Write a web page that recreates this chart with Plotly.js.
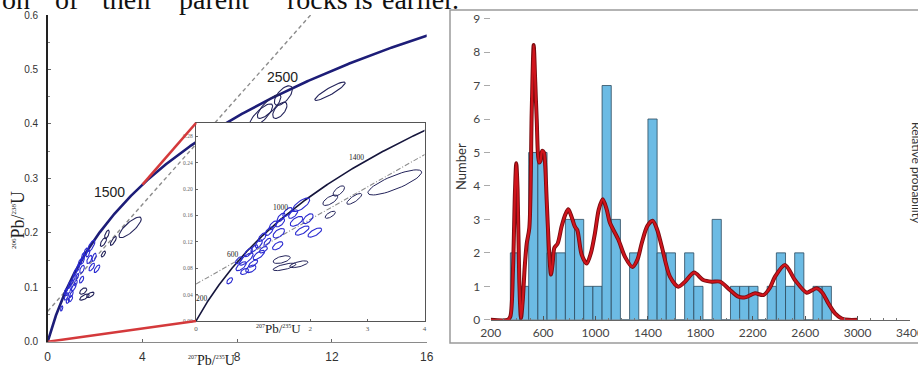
<!DOCTYPE html>
<html><head><meta charset="utf-8">
<script src="https://cdn.plot.ly/plotly-3.0.1.min.js"></script>
<style>html,body{margin:0;padding:0;background:#fff}#chart{width:918px;height:367px}</style>
</head><body><div id="chart"></div>
<script>
// ================= DATA =================
// Concordia ages (Ma) that carry a label
const mainConcordiaLabels = [1500, 2500];
const insetConcordiaLabels = [200, 600, 1000, 1400];

// Zircon U-Pb analyses (error ellipses)
// centre 207Pb/235U, centre 206Pb/238U, half-extent in x, tilt (dy/dx), half-thickness in y
const grainX = [0.59,0.79,0.88,0.96,1.00,1.10,1.18,1.10,1.16,1.28,1.35,1.49,1.60,0.75,0.92,1.02,0.85,1.45,1.43,1.47,1.76,1.86,1.84,1.96,2.08,2.35,2.35,2.50,2.77,3.48,1.50,1.55,1.80,1.70,1.25,
                9.95,9.35,9.00,9.80,11.92];
const grainY = [0.061,0.083,0.094,0.079,0.087,0.100,0.108,0.117,0.127,0.136,0.145,0.157,0.165,0.092,0.104,0.110,0.075,0.133,0.114,0.149,0.151,0.137,0.176,0.155,0.134,0.161,0.183,0.197,0.185,0.210,0.093,0.082,0.086,0.162,0.120,
                0.452,0.432,0.415,0.425,0.460];
const grainA = [0.05,0.09,0.12,0.09,0.08,0.10,0.07,0.06,0.07,0.07,0.07,0.07,0.08,0.06,0.07,0.06,0.07,0.10,0.09,0.08,0.11,0.12,0.15,0.09,0.12,0.09,0.13,0.10,0.13,0.47,0.15,0.20,0.16,0.08,0.06,
                0.38,0.50,0.50,0.30,0.64];
const grainS = [0.05,0.05,0.06,0.03,0.05,0.05,0.04,0.06,0.06,0.06,0.06,0.06,0.06,0.06,0.06,0.06,0.03,0.04,0.04,0.05,0.04,0.04,0.05,0.05,0.04,0.04,0.04,0.05,0.05,0.033,0.02,0.02,0.02,0.05,0.06,
                0.03,0.035,0.035,0.03,0.024];
const grainB = [0.004,0.005,0.006,0.005,0.004,0.005,0.004,0.005,0.005,0.005,0.005,0.005,0.005,0.004,0.005,0.004,0.004,0.006,0.005,0.005,0.006,0.005,0.007,0.006,0.005,0.004,0.006,0.006,0.005,0.011,0.005,0.004,0.004,0.005,0.004,
                0.014,0.013,0.013,0.012,0.007];

// Discordia reference line (dashed)
const discordiaX = [0, 11.1];
const discordiaY = [0.056, 0.6];

// Age histogram (Ma)
const binLeft  = [350,420,490,560,630,700,770,840,910,980,1050,1120,1190,1260,1330,1400,1470,1540,1610,1680,1750,1820,1890,1960,2030,2100,2170,2240,2310,2380,2450,2520,2590,2660,2730];
const binCount = [2,1,5,5,2,2,3,3,1,1,7,3,0,2,0,6,2,2,0,2,1,0,3,0,1,1,1,0,1,2,1,2,0,1,1];
const binWidth = 70;

// Probability density curve (scaled to the count axis)
const kdeAge = [200,330,350,370,385,395,405,418,431,445,460,475,495,513,528,540,551,569,580,592,606,616,627,645,660,673,686,711,742,770,792,815,843,861,894,933,965,996,1025,1055,1085,1110,1174,1225,1281,1320,1352,1395,1436,1470,1505,1568,1632,1683,1752,1822,1887,1950,2026,2090,2141,2217,2281,2330,2370,2446,2522,2612,2650,2688,2731,2777,2828,2879,2930,3000];
const kdeValue = [0,0,0.1,1.5,3.8,4.68,3.9,1.2,0.05,0.6,1.6,2.28,2.75,6.2,8.21,7.1,6.0,4.7,4.75,5.05,5.0,4.6,3.6,2.1,1.35,1.7,2.15,2.28,2.8,3.15,3.3,3.1,2.78,2.68,1.95,1.68,2.0,2.6,3.3,3.6,3.3,2.9,2.4,1.88,1.58,1.8,2.28,2.8,2.96,2.7,2.2,1.29,0.99,1.14,1.41,1.19,1.14,1.14,0.89,0.69,0.67,0.79,0.74,0.95,1.29,1.64,1.19,0.81,0.88,0.94,0.81,0.49,0.19,0.04,0,0];

// Caption fragment above the figure
const captionWords = ['on','of','their','parent','rocks','is','earlier.'];

// ================= HELPERS =================
const W = 918, H = 367;
const L238 = 1.55125e-4, L235 = 9.8485e-4; // decay constants per Ma
function conc(t){ return [Math.exp(L235*t)-1, Math.exp(L238*t)-1]; }

// pixel boxes of the three plot areas
const MAIN = {l:47.7, r:426.7, t:15, b:341.7};
const INS  = {l:196, r:424.5, t:123, b:321};
const HIST = {l:490.7, r:910, t:18.6, b:319.8};
const dom = (p) => ({x:[p.l/W, p.r/W], y:[1-p.b/H, 1-p.t/H]});

function concCurve(tmax){
  const xs=[], ys=[];
  for(let t=0;t<=tmax;t+=5){ const c=conc(t); xs.push(c[0]); ys.push(c[1]); }
  return {xs, ys};
}

function ellipses(filter){
  const xs=[], ys=[];
  for(let i=0;i<grainX.length;i++){
    if(!filter(i)) continue;
    for(let k=0;k<=48;k++){
      const th = 2*Math.PI*k/48;
      xs.push(grainX[i] + grainA[i]*Math.cos(th));
      ys.push(grainY[i] + grainS[i]*grainA[i]*Math.cos(th) + grainB[i]*Math.sin(th));
    }
    xs.push(null); ys.push(null);
  }
  return {xs, ys};
}
const isDark = i => grainX[i] > 2.2 || (grainX[i] > 1.4 && grainY[i] < 0.1);

// ================= TRACES =================
const traces = [];
const mainC = concCurve(2950);
const insC = concCurve(1700);

// main panel
traces.push({x:discordiaX, y:discordiaY, xaxis:'x', yaxis:'y', mode:'lines',
  line:{color:'#8c8c8c', width:1.4, dash:'4px,3px'}, hoverinfo:'skip'});
traces.push({x:mainC.xs, y:mainC.ys, xaxis:'x', yaxis:'y', mode:'lines',
  line:{color:'#1d1d78', width:2.6}, hoverinfo:'skip'});
let e = ellipses(i => !isDark(i));
traces.push({x:e.xs, y:e.ys, xaxis:'x', yaxis:'y', mode:'lines', line:{color:'#2a2ad0', width:1.1}, hoverinfo:'skip'});
e = ellipses(i => isDark(i));
traces.push({x:e.xs, y:e.ys, xaxis:'x', yaxis:'y', mode:'lines', line:{color:'#23235a', width:1.1}, hoverinfo:'skip'});

// inset panel
traces.push({x:discordiaX, y:discordiaY, xaxis:'x2', yaxis:'y2', mode:'lines',
  line:{color:'#8c8c8c', width:1.1, dash:'5px,2px,1px,2px'}, hoverinfo:'skip'});
traces.push({x:insC.xs, y:insC.ys, xaxis:'x2', yaxis:'y2', mode:'lines',
  line:{color:'#15153c', width:1.6}, hoverinfo:'skip'});
e = ellipses(i => !isDark(i) && grainX[i] < 4);
traces.push({x:e.xs, y:e.ys, xaxis:'x2', yaxis:'y2', mode:'lines', line:{color:'#2a2ad0', width:1.1}, hoverinfo:'skip'});
e = ellipses(i => isDark(i) && grainX[i] < 4);
traces.push({x:e.xs, y:e.ys, xaxis:'x2', yaxis:'y2', mode:'lines', line:{color:'#23235a', width:1.0}, hoverinfo:'skip'});

// histogram
traces.push({type:'bar', x:binLeft, y:binCount, width:binWidth, offset:0, xaxis:'x3', yaxis:'y3',
  marker:{color:'#6cbbe4', line:{color:'#2c4a5e', width:0.8}}, hoverinfo:'skip'});
traces.push({x:kdeAge, y:kdeValue, xaxis:'x3', yaxis:'y3', mode:'lines',
  line:{color:'#7a0c10', width:4, shape:'spline', smoothing:0.8}, hoverinfo:'skip'});
traces.push({x:kdeAge, y:kdeValue, xaxis:'x3', yaxis:'y3', mode:'lines',
  line:{color:'#d0141c', width:2.2, shape:'spline', smoothing:0.8}, hoverinfo:'skip'});

// ================= LAYOUT =================
const dM = dom(MAIN), dI = dom(INS), dH = dom(HIST);
const serif = 'Liberation Serif, Times New Roman, serif';
const sans = 'Liberation Sans, Arial, sans-serif';
const lato = 'Lato, Open Sans, sans-serif';

const mx = px => (px-MAIN.l)/(MAIN.r-MAIN.l)*16;
const my = py => (MAIN.b-py)/(MAIN.b-MAIN.t)*0.6;
const zoomCorner = conc(Math.log(5)/L235); // concordia at 207/235 = 4

const annotations = [];
const mainShift = {1500:[-18,7], 2500:[-19,7]};
mainConcordiaLabels.forEach(t => { const c = conc(t);
  annotations.push({x:c[0], y:c[1], xref:'x', yref:'y', text:String(t), showarrow:false,
    xanchor:'center', yanchor:'middle',
    xshift:mainShift[t][0], yshift:mainShift[t][1], font:{family:sans, size:14, color:'#222'}}); });
const insShift = {200:[-6,2], 600:[-9,2], 1000:[-11,3], 1400:[-9,3]};
insetConcordiaLabels.forEach(t => { const c = conc(t);
  annotations.push({x:c[0], y:c[1], xref:'x2', yref:'y2', text:String(t), showarrow:false,
    xanchor:'center', yanchor:'middle',
    xshift:insShift[t][0], yshift:insShift[t][1], font:{family:serif, size:7.5, color:'#222'}}); });

const P = (px, py, extra) => Object.assign({x:px/W, y:1-py/H, xref:'paper', yref:'paper',
  showarrow:false, xanchor:'center', yanchor:'middle'}, extra);

annotations.push(P(18, 220, {textangle:-90,
  text:'<sup><span style="font-size:7px">206</span></sup>Pb/<sup><span style="font-size:7px">238</span></sup>U',
  font:{family:serif, size:18, color:'#222'}}));
annotations.push(P(211, 360, {
  text:'<sup><span style="font-size:6px">207</span></sup>Pb/<sup><span style="font-size:6px">235</span></sup>U',
  font:{family:serif, size:14, color:'#222'}}));
annotations.push(P(278, 328, {
  text:'<sup><span style="font-size:6px">207</span></sup>Pb/<sup><span style="font-size:6px">235</span></sup>U',
  font:{family:serif, size:13, color:'#222'}}));
annotations.push(P(461, 167, {textangle:-90, text:'Number', font:{family:lato, size:13, color:'#333'}}));
annotations.push(P(917, 173, {textangle:90, text:'Relative probability', font:{family:lato, size:12, color:'#333'}}));

// caption fragment at top
const wordLeft = [0, 53, 100, 177, 285, 352, 380];
captionWords.forEach((w,i) => annotations.push({x:wordLeft[i]/W, y:1-17/H, xref:'paper', yref:'paper',
  xanchor:'left', yanchor:'bottom', showarrow:false, text:w, font:{family:serif, size:28, color:'#111'}}));

const shapes = [
  {type:'rect', xref:'paper', yref:'paper', x0:450/W, x1:1.05, y0:1-343/H, y1:1-10/H,
   line:{color:'#9a9a9a', width:1.5}, layer:'below'},
  {type:'rect', xref:'x2', yref:'y2', x0:0, x1:4, y0:0, y1:0.3, fillcolor:'#fff', line:{width:0}, layer:'below'},
  {type:'line', xref:'x', yref:'y', x0:0, y0:0, x1:mx(INS.l), y1:my(INS.b), line:{color:'#d4393b', width:2.6}, layer:'above'},
  {type:'line', xref:'x', yref:'y', x0:zoomCorner[0], y0:zoomCorner[1], x1:mx(INS.l), y1:my(INS.t), line:{color:'#d4393b', width:2.6}, layer:'above'}
];

const layout = {
  width:W, height:H, margin:{l:0,r:0,t:0,b:0},
  paper_bgcolor:'#fff', plot_bgcolor:'#fff', showlegend:false,
  xaxis:{domain:dM.x, range:[0,16], tickvals:[0,4,8,12,16], ticks:'inside', ticklen:3, tickcolor:'#666',
    showline:true, linecolor:'#8a8a8a', linewidth:1.3, showgrid:false, zeroline:false, anchor:'y',
    tickfont:{family:sans, size:12, color:'#333'}, ticklabelstandoff:4},
  yaxis:{domain:dM.y, range:[0,0.6], dtick:0.1, tickformat:'.1f', ticks:'inside', ticklen:3, tickcolor:'#666',
    minor:{dtick:0.05, ticks:'inside', ticklen:2, tickcolor:'#888'},
    showline:true, linecolor:'#222', linewidth:1.5, showgrid:false, zeroline:false, anchor:'x',
    tickfont:{family:sans, size:10, color:'#333'}, ticklabelstandoff:6},
  xaxis2:{domain:dI.x, range:[0,4], tickvals:[0,2,3,4], ticks:'inside', ticklen:2, tickcolor:'#666',
    showline:true, mirror:true, linecolor:'#555', linewidth:1.2, showgrid:false, zeroline:false, anchor:'y2',
    tickfont:{family:serif, size:7, color:'#555'}, ticklabelstandoff:0},
  yaxis2:{domain:dI.y, range:[0,0.3], tickvals:[0,0.04,0.08,0.12,0.16,0.20,0.24,0.28], tickformat:'.2f',
    ticks:'inside', ticklen:2, tickcolor:'#666',
    showline:true, mirror:true, linecolor:'#555', linewidth:1.2, showgrid:false, zeroline:false, anchor:'x2',
    tickfont:{family:serif, size:5.5, color:'#666'}, ticklabelstandoff:1},
  xaxis3:{domain:dH.x, range:[200,3400], tick0:200, dtick:400, ticks:'inside', ticklen:4, tickcolor:'#555',
    minor:{dtick:100, ticks:'inside', ticklen:2, tickcolor:'#777'}, ticklabeloverflow:'allow',
    showline:true, linecolor:'#666', linewidth:1, showgrid:false, zeroline:false, anchor:'y3',
    tickfont:{family:lato, size:12, color:'#444'}, ticklabelstandoff:2},
  yaxis3:{domain:dH.y, range:[0,9], dtick:1, ticks:'outside', ticklen:6, tickcolor:'#aaa',
    showline:false, showgrid:false, zeroline:false, anchor:'x3',
    tickfont:{family:lato, size:12, color:'#444'}, ticklabelstandoff:1},
  annotations, shapes
};

Plotly.newPlot('chart', traces, layout, {staticPlot:true, displayModeBar:false});
</script>
</body></html>
